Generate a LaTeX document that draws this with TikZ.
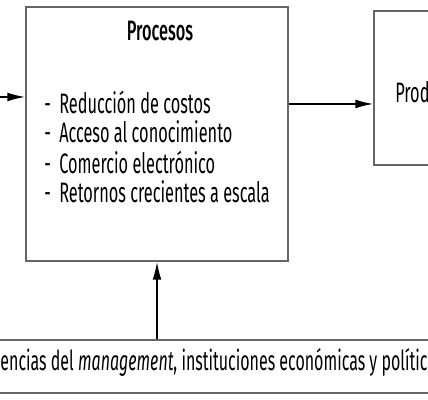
\documentclass[tikz,border=0pt]{standalone}
\usepackage{fontspec}
\setmainfont{Fira Sans}[FakeStretch=0.58]
\newfontfamily\headfont{Fira Sans Medium}[FakeStretch=0.58]
\usetikzlibrary{arrows.meta,positioning}

\tikzset{
  caja/.style={draw=black!60, line width=0.8pt, inner sep=0pt},
  item/.style={anchor=west, inner sep=0pt, font=\fontsize{20}{24}\selectfont},
  flecha/.style={-{Latex[length=0.45cm,width=0.22cm]}, line width=1.2pt}
}

\begin{document}
\begin{tikzpicture}[x=0.025cm,y=-0.025cm]
    \useasboundingbox (0,0) rectangle (428,400);
    \clip (0,0) rectangle (428,400);

    % Procesos
    \node[caja, minimum width=6.55cm, minimum height=6.35cm] (procesos) at (157,134) {};
    \node[font=\headfont\fontsize{20}{24}\selectfont] (titulo) at (160,31) {Procesos};
    \node[item] (reduccion) at (44,102) {-\hspace{6pt}Reducción de costos};
    \node[item] (acceso) at (44,132) {-\hspace{6pt}Acceso al conocimiento};
    \node[item] (comercio) at (44,162) {-\hspace{6pt}Comercio electrónico};
    \node[item] (retornos) at (44,192) {-\hspace{6pt}Retornos crecientes a escala};

    % Prod
    \node[caja, minimum width=2.65cm, minimum height=3.85cm] (prod) at (427,88) {};
    \node[item] (prodtxt) at (395,92) {Prod};

    % base
    \node[caja, minimum width=14cm, minimum height=1.325cm] (base) at (214,366.5) {};
    \node[inner sep=0pt, font=\fontsize{19.6}{24}\selectfont] (basetxt) at (214,362)
          {encias del \textit{management}, instituciones económicas y polític};

    % flechas
    \coordinate (entrada) at (0,97);
    \draw[flecha] (entrada) -- (entrada -| procesos.west);
    \draw[flecha] ([yshift=0.75cm]procesos.east) -- ([yshift=0.75cm]procesos.east -| prod.west);
    \draw[flecha] (base.north -| procesos.south) -- (procesos.south);
\end{tikzpicture}
\end{document}
